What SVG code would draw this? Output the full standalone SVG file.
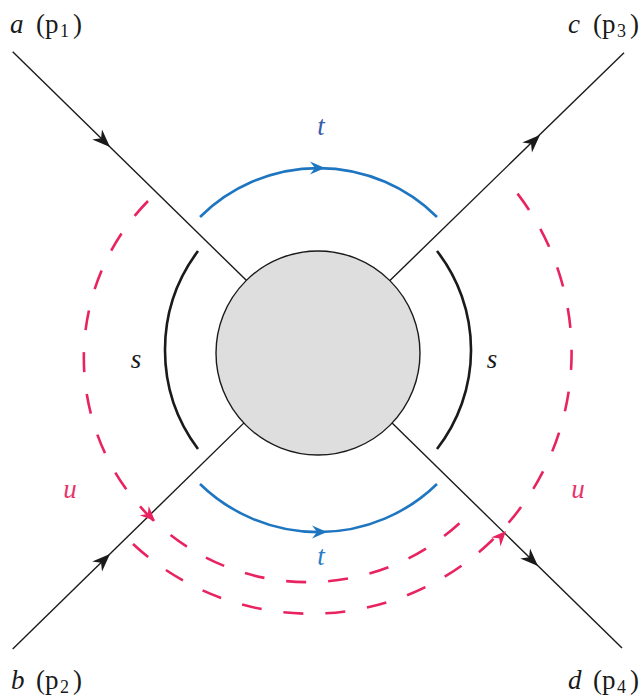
<svg xmlns="http://www.w3.org/2000/svg" width="644" height="698" viewBox="0 0 644 698">
<style>
.leg{stroke:#1a1a1a;stroke-width:1.4;fill:none}
.blue{stroke:#1f76c0;stroke-width:2.6;fill:none}
.sarc{stroke:#1a1a1a;stroke-width:2.6;fill:none}
.pink{stroke:#e8235f;stroke-width:2.6;fill:none;stroke-dasharray:20 22}
.lab{font-family:"Liberation Serif","DejaVu Serif",serif;font-size:27px;fill:#1a1a1a}
.it{font-style:italic}
.sub{font-size:18px}
.tl{font-family:"Liberation Serif","DejaVu Serif",serif;font-size:27px;font-style:italic}
</style>
<defs>
<path id="ah" d="M0,0 L-18,-7 L-12.5,0 L-18,7 Z"/>
<path id="ahs" d="M0,0 L-15,-6.5 L-10,0 L-15,6.5 Z"/>
</defs>
<g id="connectors">
<line class="leg" x1="12.7" y1="51.7" x2="318" y2="350.5"/>
<line class="leg" x1="624" y1="52.7" x2="318" y2="350.5"/>
<line class="leg" x1="12.7" y1="649" x2="318" y2="350.5"/>
<line class="leg" x1="622" y1="648" x2="318" y2="350.5"/>
<use href="#ah" fill="#1a1a1a" transform="translate(110,147) rotate(44.4)"/>
<use href="#ah" fill="#1a1a1a" transform="translate(540,135) rotate(-44.2)"/>
<use href="#ah" fill="#1a1a1a" transform="translate(110,554) rotate(-44.4)"/>
<use href="#ah" fill="#1a1a1a" transform="translate(538,566) rotate(44.4)"/>
<path class="blue" d="M200,217 A168,168 0 0 1 437,217"/>
<path class="blue" d="M200,484 A170,170 0 0 0 437,484"/>
<use href="#ahs" fill="#1f76c0" transform="translate(325,168)"/>
<use href="#ahs" fill="#1f76c0" transform="translate(327,532)"/>
<path class="sarc" d="M198,251 A165,165 0 0 0 198,449"/>
<path class="sarc" d="M437,251 A161,161 0 0 1 437,449"/>
<path class="pink" d="M148,201 A223,223 0 1 0 468,515"/>
<path class="pink" d="M133,544 A261,261 0 0 0 508,182"/>
<use href="#ahs" fill="#e8235f" transform="translate(155,521) rotate(44)"/>
<use href="#ahs" fill="#e8235f" transform="translate(506,531) rotate(-47)"/>
</g>
<g id="blob">
<circle cx="318" cy="353" r="102" fill="#dedede" stroke="#1a1a1a" stroke-width="1.4"/>
</g>
<g id="label-a">
<text class="lab"><tspan class="it" x="10" y="33">a</tspan><tspan x="36" y="33">(p</tspan><tspan class="sub" x="60" y="37">1</tspan><tspan x="73" y="33">)</tspan></text>
</g>
<g id="label-c">
<text class="lab"><tspan class="it" x="568" y="33">c</tspan><tspan x="593" y="33">(p</tspan><tspan class="sub" x="617" y="37">3</tspan><tspan x="630" y="33">)</tspan></text>
</g>
<g id="label-b">
<text class="lab"><tspan class="it" x="11" y="689">b</tspan><tspan x="36" y="689">(p</tspan><tspan class="sub" x="60" y="693">2</tspan><tspan x="73" y="689">)</tspan></text>
</g>
<g id="label-d">
<text class="lab"><tspan class="it" x="568" y="689">d</tspan><tspan x="593" y="689">(p</tspan><tspan class="sub" x="617" y="693">4</tspan><tspan x="630" y="689">)</tspan></text>
</g>
<g id="label-t-top"><text class="tl" x="321" y="135" text-anchor="middle" fill="#3a5aad">t</text></g>
<g id="label-t-bottom"><text class="tl" x="321" y="565" text-anchor="middle" fill="#2a7cc7">t</text></g>
<g id="label-s-left"><text class="tl" x="136" y="368" text-anchor="middle" fill="#1a1a1a">s</text></g>
<g id="label-s-right"><text class="tl" x="492" y="368" text-anchor="middle" fill="#1a1a1a">s</text></g>
<g id="label-u-left"><text class="tl" x="70" y="498" text-anchor="middle" fill="#e8336b">u</text></g>
<g id="label-u-right"><text class="tl" x="578" y="498" text-anchor="middle" fill="#e8336b">u</text></g>
</svg>
